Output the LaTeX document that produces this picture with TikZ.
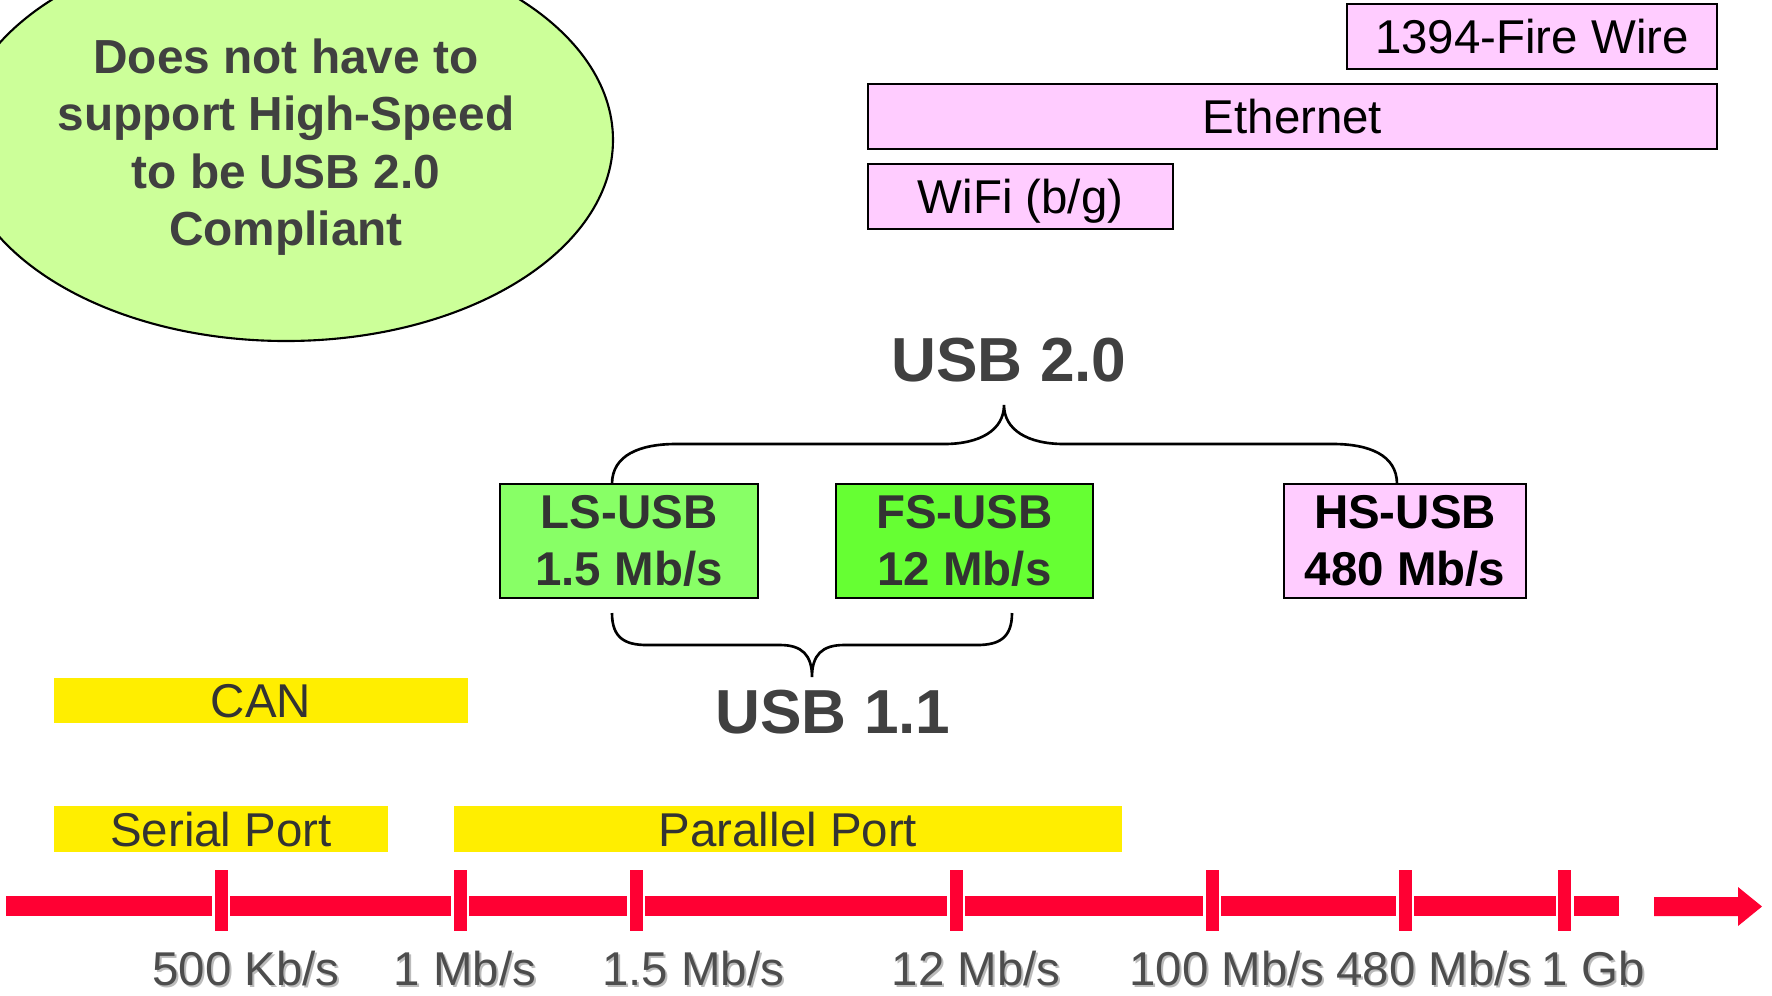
\documentclass[tikz,border=0pt]{standalone}
\usepackage{fontspec}
\setmainfont{Liberation Sans}
\definecolor{notegreen}{HTML}{CCFF99}
\definecolor{lsgreen}{HTML}{88FF66}
\definecolor{fsgreen}{HTML}{66FF33}
\definecolor{netpink}{HTML}{FFCCFF}
\definecolor{busyellow}{HTML}{FFEE00}
\definecolor{busred}{HTML}{FF0033}
\definecolor{usbgray}{HTML}{404040}
\definecolor{boxgray}{HTML}{333333}
\definecolor{axisgray}{HTML}{4D4D4D}
\definecolor{shadowgray}{HTML}{BBBBBB}
\usetikzlibrary{shapes.geometric}
\newcommand{\shd}[1]{\makebox[0pt][l]{\hspace{0.6pt}\raisebox{-0.6pt}{\color{shadowgray}#1}}#1}

\begin{document}
\begin{tikzpicture}[
  txt/.style={font=\fontsize{13.5}{16.2}\selectfont},
  net/.style={txt, draw=black, line width=0.8pt, fill=netpink, minimum height=0.65cm, inner sep=0pt, text height=9.7pt, text depth=0pt},
  bus/.style={txt, fill=busyellow, text=boxgray, minimum height=0.455cm, inner sep=0pt, text height=9.7pt, text depth=0pt},
  usb/.style={txt, draw=black, line width=0.8pt, minimum height=1.14cm, inner sep=0pt, align=center, font=\fontsize{13.5}{16.2}\selectfont\bfseries},
  ver/.style={font=\fontsize{17.7}{20}\selectfont\bfseries, text=usbgray, anchor=base},
  brc/.style={draw=black, line width=0.75pt},
  rtick/.style={fill=busred, draw=white, line width=0.025cm, minimum width=0.155cm, minimum height=0.635cm, inner sep=0pt},
  rate/.style={txt, text=axisgray, anchor=base}
]
  \useasboundingbox (0,0) rectangle (17.72,-9.95);
  \clip (0,0) rectangle (17.72,-9.95);

  % note bubble
  \node[ellipse, draw=black, line width=0.6pt, fill=notegreen, minimum width=6.54cm, minimum height=4.02cm, inner sep=0pt,
        text=usbgray, font=\fontsize{13.6}{16.3}\selectfont\bfseries] (note) at (2.86,-1.40)
        {\begin{tabular}{@{}c@{}}\rule{0pt}{15.9pt}Does not have to\\support High-Speed\\to be USB 2.0\\Compliant\end{tabular}};

  % networks
  \node[net, minimum width=3.70cm] (fw) at (15.32,-0.365) {1394-Fire Wire};
  \node[net, minimum width=8.49cm] (eth) at (12.925,-1.165) {Ethernet};
  \node[net, minimum width=3.05cm] (wifi) at (10.205,-1.965) {WiFi (b/g)};

  % usb speeds
  \node[usb, fill=lsgreen, text=boxgray, minimum width=2.58cm] (ls) at (6.29,-5.41) {LS-USB\\1.5 Mb/s};
  \node[usb, fill=fsgreen, text=boxgray, minimum width=2.57cm] (fs) at (9.645,-5.41) {FS-USB\\12 Mb/s};
  \node[usb, fill=netpink, text=black, minimum width=2.42cm] (hs) at (14.05,-5.41) {HS-USB\\480 Mb/s};

  \node[ver] (usb20) at (10.09,-3.81) {USB 2.0};
  \node[ver] (usb11) at (8.33,-7.33) {USB 1.1};

  % braces
  \draw[brc] (6.12,-4.84) .. controls (6.12,-4.55) and (6.40,-4.44) .. (6.76,-4.44) -- (9.44,-4.44)
    .. controls (9.80,-4.44) and (10.04,-4.30) .. (10.04,-4.05)
    .. controls (10.04,-4.30) and (10.28,-4.44) .. (10.64,-4.44) -- (13.33,-4.44)
    .. controls (13.69,-4.44) and (13.97,-4.55) .. (13.97,-4.84);
  \draw[brc] (6.12,-6.13) .. controls (6.12,-6.38) and (6.25,-6.45) .. (6.47,-6.45) -- (7.80,-6.45)
    .. controls (8.02,-6.45) and (8.12,-6.55) .. (8.12,-6.77)
    .. controls (8.12,-6.55) and (8.22,-6.45) .. (8.44,-6.45) -- (9.77,-6.45)
    .. controls (9.99,-6.45) and (10.12,-6.38) .. (10.12,-6.13);

  % ports
  \node[bus, minimum width=4.14cm] (can) at (2.61,-7.005) {CAN};
  \node[bus, minimum width=3.34cm] (serial) at (2.21,-8.29) {Serial Port};
  \node[bus, minimum width=6.68cm] (parallel) at (7.88,-8.29) {Parallel Port};

  % speed axis
  \fill[busred] (0.06,-8.96) rectangle (16.19,-9.16);
  \fill[busred] (16.54,-8.97) -- (17.38,-8.97) -- (17.38,-8.87) -- (17.62,-9.065) -- (17.38,-9.26) -- (17.38,-9.16) -- (16.54,-9.16) -- cycle;
  \node[rtick] (t1) at (2.21,-9.005) {};
  \node[rtick] (t2) at (4.60,-9.005) {};
  \node[rtick] (t3) at (6.36,-9.005) {};
  \node[rtick] (t4) at (9.56,-9.005) {};
  \node[rtick] (t5) at (12.12,-9.005) {};
  \node[rtick] (t6) at (14.05,-9.005) {};
  \node[rtick] (t7) at (15.645,-9.005) {};

  \node[rate] (r1) at (2.46,-9.85) {\shd{500 Kb/s}};
  \node[rate] (r2) at (4.65,-9.85) {\shd{1 Mb/s}};
  \node[rate] (r3) at (6.93,-9.85) {\shd{1.5 Mb/s}};
  \node[rate] (r4) at (9.76,-9.85) {\shd{12 Mb/s}};
  \node[rate] (r5) at (12.27,-9.85) {\shd{100 Mb/s}};
  \node[rate] (r6) at (14.34,-9.85) {\shd{480 Mb/s}};
  \node[rate] (r7) at (15.93,-9.85) {\shd{1 Gb}};
\end{tikzpicture}
\end{document}
